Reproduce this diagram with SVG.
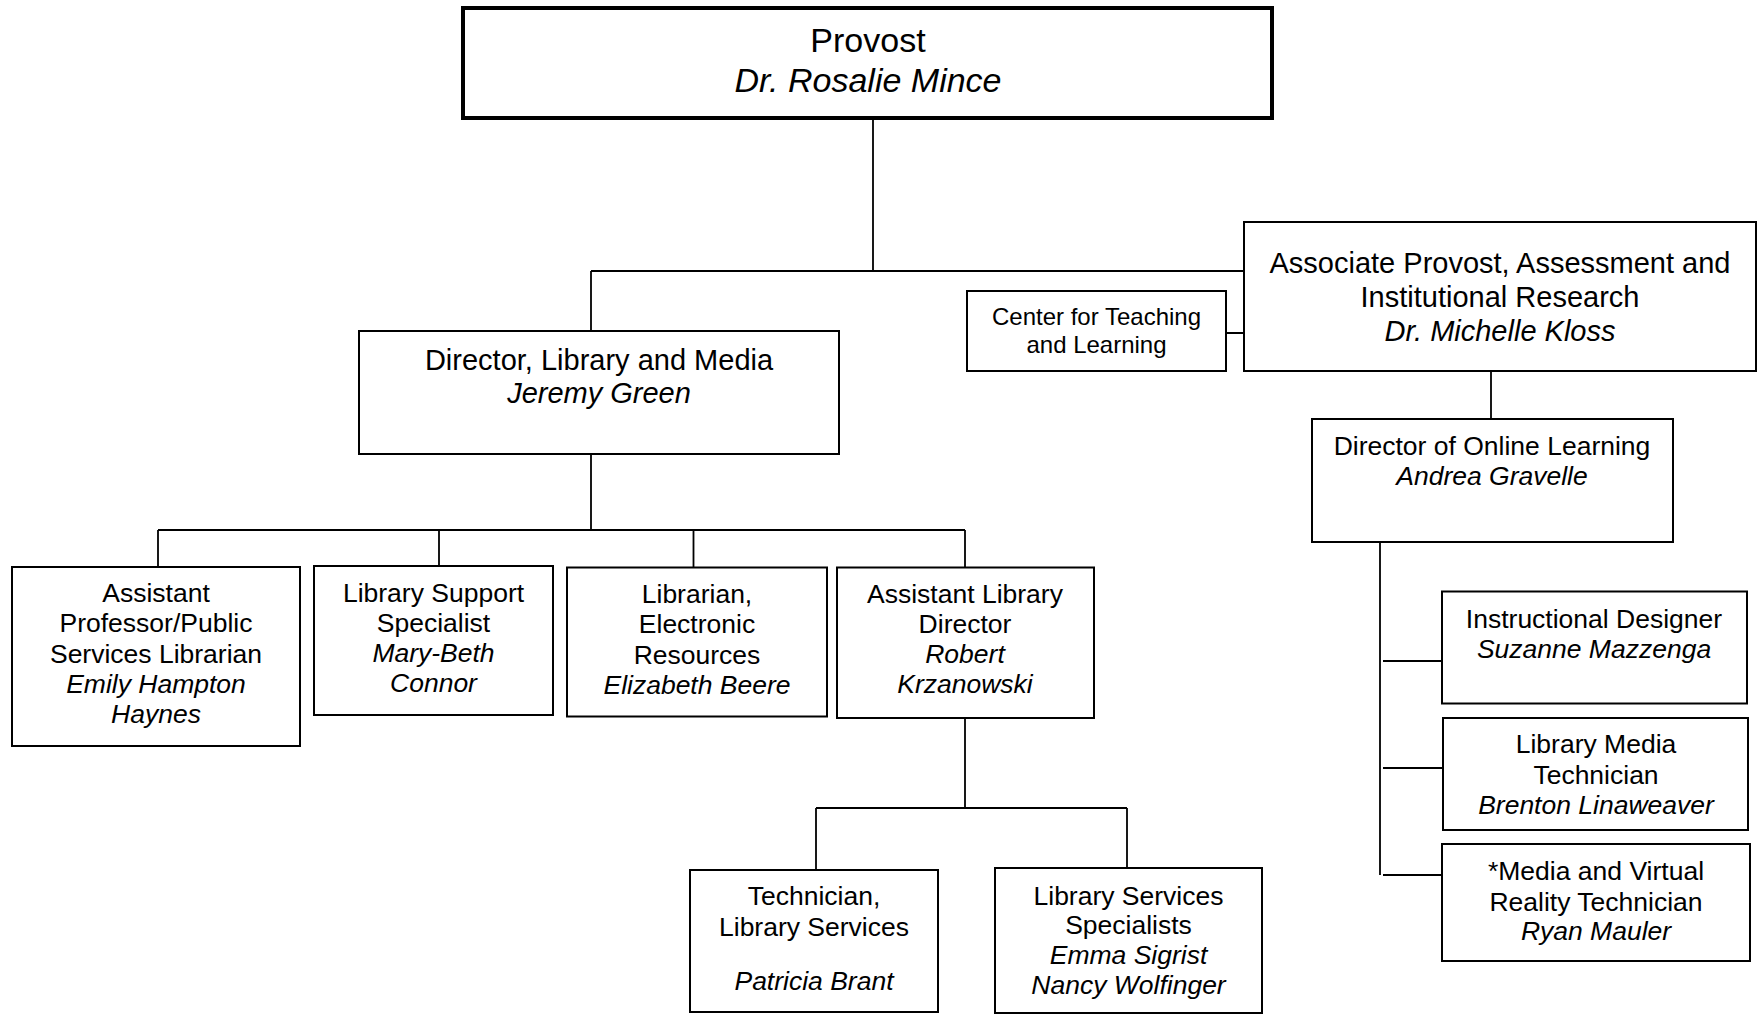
<svg xmlns="http://www.w3.org/2000/svg" width="1757" height="1015" viewBox="0 0 1757 1015">
<style>
.box{fill:#fff;stroke:#000;stroke-width:2}
.top{fill:#fff;stroke:#000;stroke-width:4}
.con{fill:none;stroke:#000;stroke-width:1.8}
text{font-family:"Liberation Sans",Arial,sans-serif;fill:#000;text-anchor:middle;font-size:26.5px}
.i{font-style:italic}
.f34{font-size:34px}
.f29{font-size:29px}
.f24{font-size:24px}
</style>
<rect width="1757" height="1015" fill="#fff"/>
<g id="connectors">
<path class="con" d="M873 120V271M591 271H1244M591 271V331M1226 333H1244M1491 371V419M591 454V530M158 530H965M158 530V567M439 530V566M693.5 530V567.5M965 530V567.5M965 718V808M816 808H1127M816 808V870M1127 808V868M1380 542V875M1383 661H1442M1383 768H1443M1383 875H1442"/>
</g>
<g id="provost">
<rect class="top" x="463" y="8" width="809" height="110"/>
<text class="f34" x="868" y="52">Provost</text>
<text class="f34 i" x="868" y="92">Dr. Rosalie Mince</text>
</g>
<g id="assoc-provost">
<rect class="box" x="1244" y="222" width="512" height="149"/>
<text class="f29" x="1500" y="273">Associate Provost, Assessment and</text>
<text class="f29" x="1500" y="307">Institutional Research</text>
<text class="f29 i" x="1500" y="341">Dr. Michelle Kloss</text>
</g>
<g id="ctl">
<rect class="box" x="967" y="291" width="259" height="80"/>
<text class="f24" x="1096.5" y="325">Center for Teaching</text>
<text class="f24" x="1096.5" y="353">and Learning</text>
</g>
<g id="director-library">
<rect class="box" x="359" y="331" width="480" height="123"/>
<text class="f29" x="599" y="370">Director, Library and Media</text>
<text class="f29 i" x="599" y="403">Jeremy Green</text>
</g>
<g id="director-online">
<rect class="box" x="1312" y="419" width="361" height="123"/>
<text x="1492" y="455">Director of Online Learning</text>
<text class="i" x="1492" y="485">Andrea Gravelle</text>
</g>
<g id="asst-professor">
<rect class="box" x="12" y="567" width="288" height="179"/>
<text x="156" y="602">Assistant</text>
<text x="156" y="632">Professor/Public</text>
<text x="156" y="662.5">Services Librarian</text>
<text class="i" x="156" y="693">Emily Hampton</text>
<text class="i" x="156" y="723">Haynes</text>
</g>
<g id="library-support">
<rect class="box" x="314" y="566" width="239" height="149"/>
<text x="433.5" y="602">Library Support</text>
<text x="433.5" y="632">Specialist</text>
<text class="i" x="433.5" y="662">Mary-Beth</text>
<text class="i" x="433.5" y="692">Connor</text>
</g>
<g id="librarian-electronic">
<rect class="box" x="567" y="567.5" width="260" height="149"/>
<text x="697" y="603">Librarian,</text>
<text x="697" y="633">Electronic</text>
<text x="697" y="663.5">Resources</text>
<text class="i" x="697" y="694">Elizabeth Beere</text>
</g>
<g id="asst-library-director">
<rect class="box" x="837" y="567.5" width="257" height="150.5"/>
<text x="965" y="602.5">Assistant Library</text>
<text x="965" y="633">Director</text>
<text class="i" x="965" y="663">Robert</text>
<text class="i" x="965" y="693">Krzanowski</text>
</g>
<g id="technician">
<rect class="box" x="690" y="870" width="248" height="142"/>
<text x="814" y="905">Technician,</text>
<text x="814" y="936">Library Services</text>
<text class="i" x="814" y="990">Patricia Brant</text>
</g>
<g id="library-services-specialists">
<rect class="box" x="995" y="868" width="267" height="145"/>
<text x="1128.5" y="905">Library Services</text>
<text x="1128.5" y="934">Specialists</text>
<text class="i" x="1128.5" y="964">Emma Sigrist</text>
<text class="i" x="1128.5" y="994">Nancy Wolfinger</text>
</g>
<g id="instructional-designer">
<rect class="box" x="1442" y="591.5" width="305" height="112"/>
<text x="1594" y="628">Instructional Designer</text>
<text class="i" x="1594" y="658">Suzanne Mazzenga</text>
</g>
<g id="library-media-technician">
<rect class="box" x="1443" y="718" width="305" height="112"/>
<text x="1596" y="753">Library Media</text>
<text x="1596" y="784">Technician</text>
<text class="i" x="1596" y="814">Brenton Linaweaver</text>
</g>
<g id="media-vr-technician">
<rect class="box" x="1442" y="844" width="308" height="117"/>
<text x="1596" y="880">*Media and Virtual</text>
<text x="1596" y="910.5">Reality Technician</text>
<text class="i" x="1596" y="940">Ryan Mauler</text>
</g>
</svg>
